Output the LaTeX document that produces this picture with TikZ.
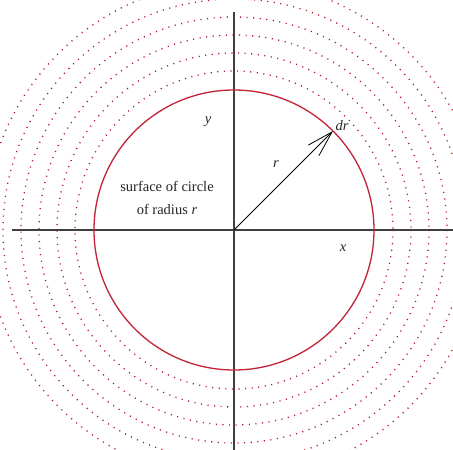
\documentclass[tikz,border=0pt]{standalone}
\usepackage{fontspec}
\setmainfont{Liberation Serif}
\usetikzlibrary{arrows.meta}
\definecolor{circred}{RGB}{195,35,55}
\definecolor{dotred}{RGB}{185,20,45}
\definecolor{axisgray}{RGB}{64,64,64}
\tikzset{
  axisline/.style={draw=axisgray, line width=1.5pt},
  maincircle/.style={draw=circred, line width=1.3pt},
  dotcircle/.style={draw=dotred, line width=1.3pt, dash pattern=on 1.1pt off 5.5pt},
  lbl/.style={font=\fontsize{14.5}{17}\selectfont, inner sep=0pt, text=black!85},
  radius arrow/.style={draw=black, line width=0.8pt, -{Straight Barb[length=26pt, width=15pt, line width=0.8pt]}}
}
\begin{document}
\begin{tikzpicture}[x=1pt, y=-1pt]
\useasboundingbox (0,0) rectangle (453,450);
\clip (0,0) rectangle (453,450);
\fill[white] (0,0) rectangle (453,450);
\coordinate (O) at (234,230);
% dotted circles
\foreach \r in {159,177,195,213,231,249} {
  \draw[dotcircle] (O) circle[radius=\r];
}
% axes
\coordinate (xl) at (12,230);
\coordinate (xr) at (453,230);
\coordinate (yt) at (234,12);
\coordinate (yb) at (234,450);
\draw[axisline] (xl) -- (xr);
\draw[axisline] (yt) -- (yb);
% main circle
\draw[maincircle] (O) circle[radius=140];
% radius arrow
\coordinate (P) at (333,131);
\draw[radius arrow] (O) -- (P);
% labels
\node[lbl] (ylab) at (208,122) {\itshape y};
\node[lbl] (xlab) at (343,248) {\itshape x};
\node[lbl] (rlab) at (276,164) {\itshape r};
\node[lbl] (drlab) at (342,126) {\itshape dr};
\node[lbl] (surf1) at (167,186) {surface of circle};
\node[lbl] (surf2) at (167,209) {of radius \textit{r}};
\end{tikzpicture}
\end{document}
